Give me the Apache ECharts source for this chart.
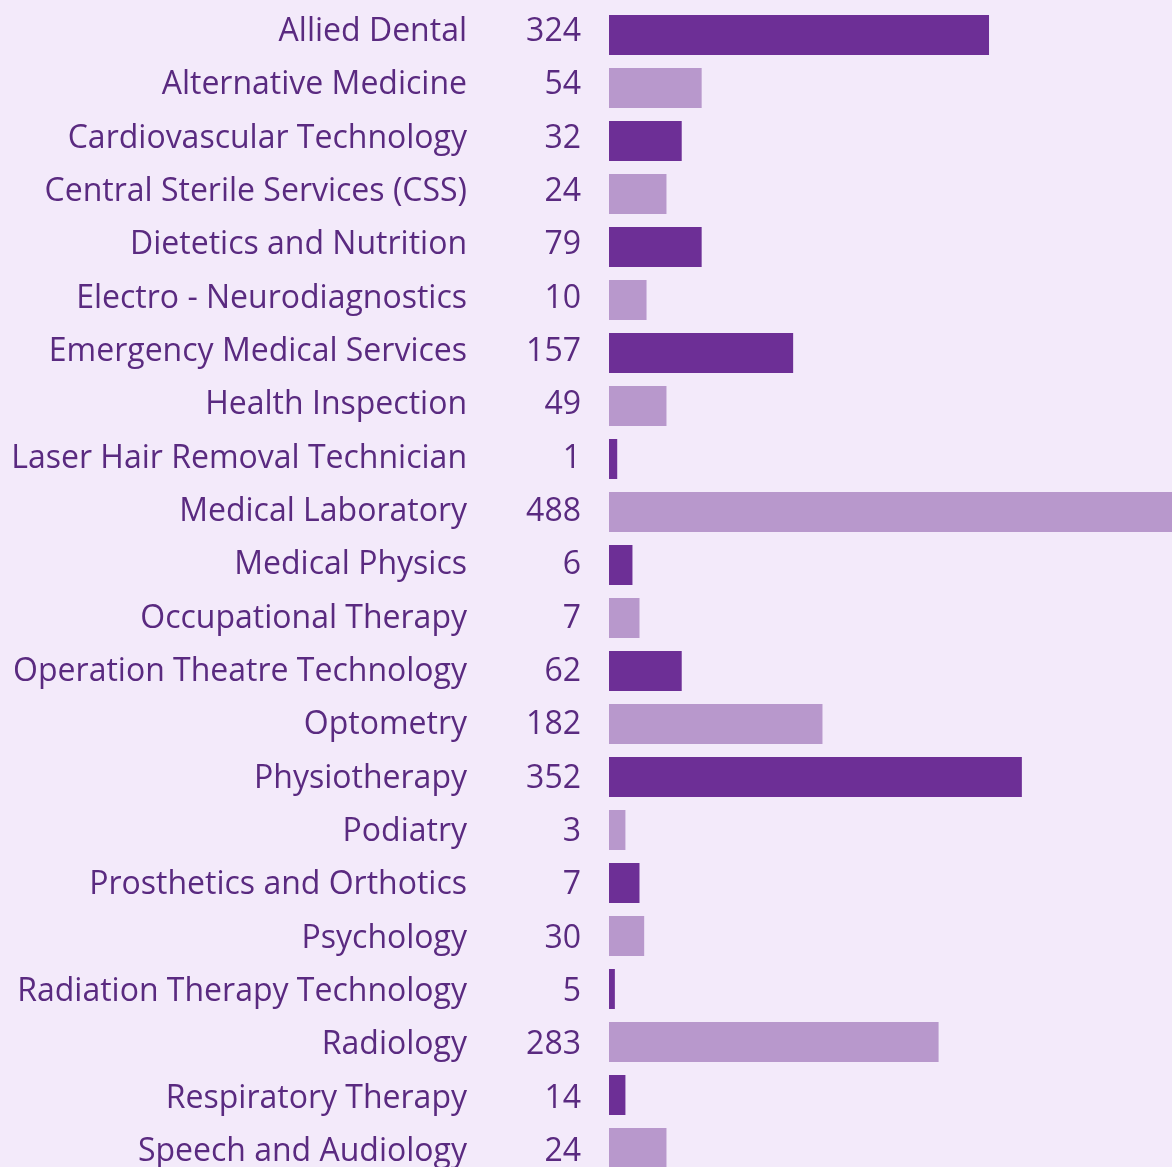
<!DOCTYPE html>
<html>
<head>
<meta charset="utf-8">
<script src="https://cdn.jsdelivr.net/npm/echarts@6/dist/echarts.min.js"></script>
<style>
  html, body { margin: 0; padding: 0; overflow: hidden; background: #f3eafa; }
  #chart { width: 1172px; height: 1185px; }
</style>
</head>
<body>
<div id="chart"></div>
<script>
// categories, top to bottom
const programs = [
  "Allied Dental", "Alternative Medicine", "Cardiovascular Technology",
  "Central Sterile Services (CSS)", "Dietetics and Nutrition", "Electro - Neurodiagnostics",
  "Emergency Medical Services", "Health Inspection", "Laser Hair Removal Technician",
  "Medical Laboratory", "Medical Physics", "Occupational Therapy",
  "Operation Theatre Technology", "Optometry", "Physiotherapy", "Podiatry",
  "Prosthetics and Orthotics", "Psychology", "Radiation Therapy Technology",
  "Radiology", "Respiratory Therapy", "Speech and Audiology"
];
// numbers printed next to the bars
const countLabels = [324, 54, 32, 24, 79, 10, 157, 49, 1, 488, 6, 7, 62, 182, 352, 3, 7, 30, 5, 283, 14, 24];
// bar lengths as drawn in the picture
const barValues = [324, 79, 62, 49, 79, 32, 157, 49, 7, 488, 20, 26, 62, 182, 352, 14, 26, 30, 5, 281, 14, 49];

const darkBar = "#6d2f96";
const lightBar = "#b898cc";
const textColor = "#5a2a80";

const chart = echarts.init(document.getElementById("chart"));
const option = {
  backgroundColor: "#f3eafa",
  animation: false,
  // grid 0: bars, grid 1: text column (slightly looser row pitch)
  grid: [
    { left: 609, right: 0, top: 8.5, height: 1166 },
    { left: 609, right: 0, top: 8.33, height: 1173.3 },
  ],
  xAxis: [
    { gridIndex: 0, type: "value", min: 0, max: 480, show: false },
    { gridIndex: 1, type: "value", min: 0, max: 480, show: false },
  ],
  yAxis: [
    {
      gridIndex: 0,
      type: "category",
      inverse: true,
      data: programs,
      show: false,
    },
    {
      gridIndex: 1,
      type: "category",
      inverse: true,
      data: programs,
      axisLine: { show: false },
      axisTick: { show: false },
      splitLine: { show: false },
      axisLabel: {
        margin: 142,
        color: textColor,
        fontFamily: "Open Sans",
        fontSize: 32,
        verticalAlign: "bottom",
        lineHeight: 6,
      },
    },
  ],
  series: [
    {
      type: "bar",
      xAxisIndex: 0,
      yAxisIndex: 0,
      data: barValues.map((v, i) => ({
        value: v,
        itemStyle: { color: i % 2 === 0 ? darkBar : lightBar },
      })),
      barCategoryGap: "24.5%",
    },
    {
      type: "bar",
      xAxisIndex: 1,
      yAxisIndex: 1,
      silent: true,
      data: barValues,
      itemStyle: { color: "rgba(0,0,0,0)" },
      label: {
        show: true,
        position: "left",
        distance: 28,
        offset: [0, -3],
        color: textColor,
        fontFamily: "Open Sans",
        fontSize: 32,
        formatter: (p) => String(countLabels[p.dataIndex]),
      },
    },
  ],
};
chart.setOption(option);
</script>
</body>
</html>
